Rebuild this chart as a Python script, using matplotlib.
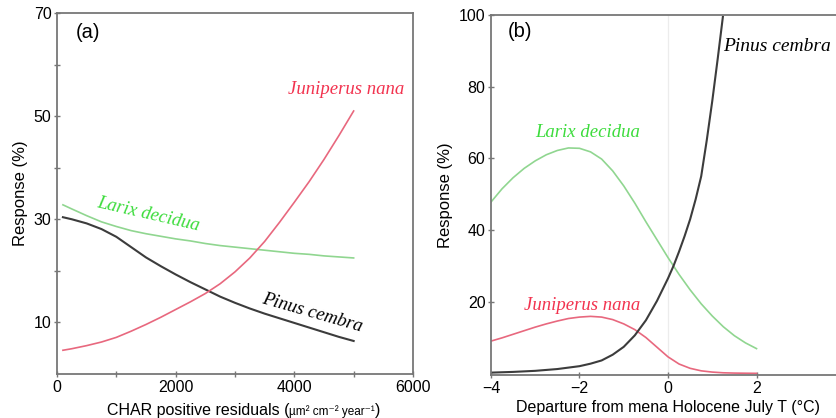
import matplotlib
matplotlib.use("Agg")
import matplotlib.pyplot as plt
from matplotlib.ticker import MultipleLocator, FixedLocator

# ---- panel (a): response vs CHAR positive residuals ----
char_x = [100, 250, 500, 750, 1000, 1250, 1500, 1750, 2000, 2250, 2500,
          2750, 3000, 3250, 3500, 3750, 4000, 4250, 4500, 4750, 5000]
char_juniperus = [4.6, 4.9, 5.5, 6.2, 7.1, 8.3, 9.6, 11.0, 12.5, 14.0, 15.6,
                  17.5, 19.8, 22.5, 25.7, 29.4, 33.3, 37.3, 41.6, 46.2, 51.0]
char_larix = [32.8, 32.0, 30.7, 29.5, 28.6, 27.8, 27.2, 26.7, 26.2, 25.8, 25.3,
              24.9, 24.6, 24.3, 24.0, 23.7, 23.4, 23.2, 22.9, 22.7, 22.5]
char_pinus = [30.4, 30.0, 29.2, 28.1, 26.6, 24.6, 22.6, 20.9, 19.3, 17.8, 16.4,
              15.0, 13.8, 12.7, 11.7, 10.8, 9.9, 9.0, 8.1, 7.2, 6.4]

# ---- panel (b): response vs July temperature departure ----
temp_x = [-4, -3.75, -3.5, -3.25, -3, -2.75, -2.5, -2.25, -2, -1.75, -1.5,
          -1.25, -1, -0.75, -0.5, -0.25, 0, 0.25, 0.5, 0.75, 1, 1.25, 1.5,
          1.75, 2]
temp_larix = [47.8, 51.5, 54.6, 57.2, 59.3, 61.0, 62.2, 62.9, 62.8, 61.8, 59.8,
              56.5, 52.3, 47.5, 42.3, 37.3, 32.3, 27.6, 23.3, 19.4, 16.0, 13.0,
              10.5, 8.5, 6.9]
temp_juniperus = [9.0, 9.9, 10.9, 11.9, 12.9, 13.8, 14.6, 15.3, 15.7, 15.9, 15.7,
                  15.0, 13.8, 12.2, 10.0, 7.3, 4.6, 2.6, 1.4, 0.7, 0.35, 0.15,
                  0.07, 0.03, 0.0]
pinus_x = [-4, -3.5, -3, -2.5, -2, -1.75, -1.5, -1.25, -1, -0.75, -0.5, -0.25,
           0, 0.125, 0.25, 0.375, 0.5, 0.625, 0.75, 0.875, 1.0, 1.125, 1.24]
pinus_y = [0.2, 0.4, 0.7, 1.2, 2.0, 2.7, 3.6, 5.2, 7.4, 10.6, 14.8, 20.2,
           26.5, 30.0, 34.0, 38.3, 43.0, 48.6, 55.0, 65.0, 76.0, 88.0, 99.5]

RED_LINE = "#e8687e"
RED_TXT = "#f2334f"
GREEN_LINE = "#90d690"
GREEN_TXT = "#3ddc3d"
BLACK_LINE = "#3c3c3c"
SPINE = "#777777"

sans = ["Liberation Sans", "DejaVu Sans"]
serif = ["Liberation Serif", "DejaVu Serif"]
plt.rcParams["font.family"] = sans

fig = plt.figure(figsize=(8.37, 4.18), dpi=100)
ax1 = fig.add_axes([0.0681, 0.1053, 0.4253, 0.8636])
ax2 = fig.add_axes([0.5866, 0.1017, 0.4230, 0.8624])


def style_axes(ax):
    for s in ax.spines.values():
        s.set_color(SPINE)
        s.set_linewidth(1.3)
    ax.tick_params(which="both", direction="inout", length=4, width=1,
                   color=SPINE, labelsize=11.5, pad=2)


# (a)
style_axes(ax1)
ax1.plot(char_x, char_larix, color=GREEN_LINE, lw=1.2)
ax1.plot(char_x, char_pinus, color=BLACK_LINE, lw=1.5)
ax1.plot(char_x, char_juniperus, color=RED_LINE, lw=1.2)
ax1.set_xlim(0, 6000)
ax1.set_ylim(0, 70)
ax1.xaxis.set_major_locator(FixedLocator([0, 2000, 4000, 6000]))
ax1.xaxis.set_minor_locator(FixedLocator([1000, 3000, 5000]))
ax1.yaxis.set_major_locator(FixedLocator([10, 30, 50, 70]))
ax1.yaxis.set_minor_locator(FixedLocator([20, 40, 60]))
ax1.set_ylabel("Response (%)", fontsize=12, labelpad=4)
ax1.text(0.087, 0.945, "(a)", transform=ax1.transAxes, fontsize=14.5,
         ha="center", va="center")

ax1.text(4873, 55.2, "Juniperus nana", color=RED_TXT, family=serif,
         style="italic", fontsize=13.5, ha="center", va="center")
ax1.text(1534, 31.0, "Larix decidua", color=GREEN_TXT, family=serif,
         style="italic", fontsize=13.5, ha="center", va="center", rotation=-13)
ax1.text(4295, 11.8, "Pinus cembra", color="black", family=serif,
         style="italic", fontsize=13.5, ha="center", va="center", rotation=-16)

# x label with small units between full-size parentheses
t1 = ax1.text(0.14, -0.114, "CHAR positive residuals (", transform=ax1.transAxes,
              fontsize=11.5, ha="left", va="baseline")
t2 = ax1.annotate("µm² cm⁻² year⁻¹", xy=(1, 0), xycoords=t1, fontsize=8.5,
                  ha="left", va="bottom", family=sans)
ax1.annotate(")", xy=(1, 0), xycoords=t2, fontsize=11.5, ha="left",
             va="bottom", annotation_clip=False)

# (b)
style_axes(ax2)
ax2.axvline(0, color="#ececec", lw=0.9, zorder=0)
ax2.plot(temp_x, temp_larix, color=GREEN_LINE, lw=1.2)
ax2.plot(temp_x, temp_juniperus, color=RED_LINE, lw=1.2)
ax2.plot(pinus_x, pinus_y, color=BLACK_LINE, lw=1.5)
ax2.set_xlim(-4, 4)
ax2.set_ylim(-0.6, 100)
ax2.xaxis.set_major_locator(MultipleLocator(2))
ax2.yaxis.set_major_locator(FixedLocator([20, 40, 60, 80, 100]))
ax2.spines["right"].set_visible(False)
ax2.set_ylabel("Response (%)", fontsize=12, labelpad=4)
ax2.set_xlabel("Departure from mena Holocene July T (°C)", fontsize=11.5,
               labelpad=3)
ax2.text(0.082, 0.953, "(b)", transform=ax2.transAxes, fontsize=14.5,
         ha="center", va="center")

ax2.text(-1.81, 67.1, "Larix decidua", color=GREEN_TXT, family=serif,
         style="italic", fontsize=13.5, ha="center", va="center")
ax2.text(-1.94, 18.9, "Juniperus nana", color=RED_TXT, family=serif,
         style="italic", fontsize=13.5, ha="center", va="center")
ax2.text(1.24, 91.1, "Pinus cembra", color="black", family=serif,
         style="italic", fontsize=14, ha="left", va="center")

fig.savefig("out.png", dpi=100)
